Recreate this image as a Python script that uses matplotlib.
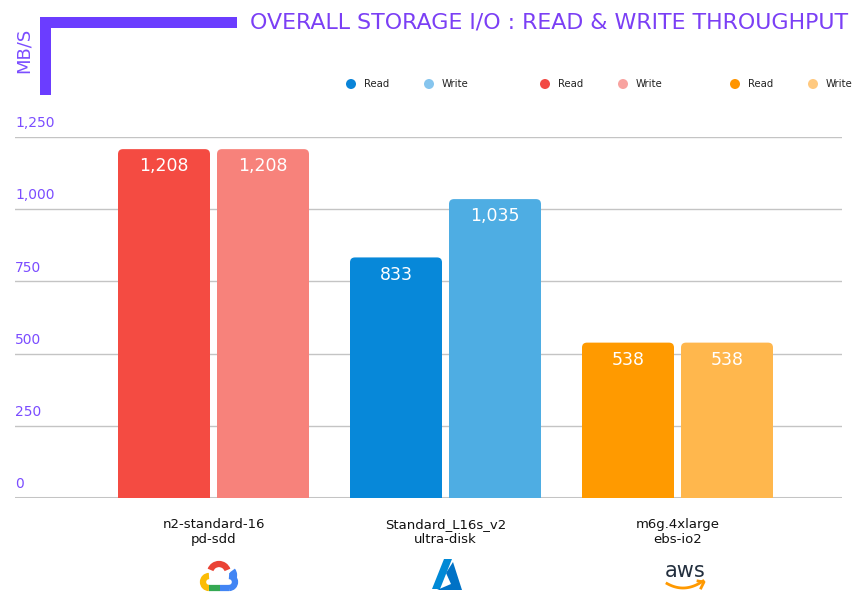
import matplotlib
matplotlib.use('Agg')
import matplotlib.pyplot as plt
import numpy as np
from matplotlib.patches import FancyBboxPatch, Rectangle, Polygon, Arc, Circle

# data
groups = ['n2-standard-16\npd-sdd', 'Standard_L16s_v2\nultra-disk', 'm6g.4xlarge\nebs-io2']
read_vals = [1208, 833, 538]
write_vals = [1208, 1035, 538]
read_colors = ['#F44B42', '#0788D9', '#FF9A00']
write_colors = ['#F7827B', '#4EADE3', '#FFB74D']
legend_read = ['#0A84D8', '#F24A44', '#FF9500']
legend_write = ['#86C5EE', '#F8A3A0', '#FFC97F']
yticks = [0, 250, 500, 750, 1000, 1250]

purple = '#7B4DFF'
plt.rcParams['font.family'] = ['DejaVu Sans']

W, H = 858, 611
fig = plt.figure(figsize=(W / 100, H / 100), dpi=100)

# main axes (pixel layout: x 15..842, y 137..498)
ax = fig.add_axes([15 / W, 1 - 498 / H, 827 / W, 361 / H])
x = np.arange(len(groups))
ax.set_xlim(-198.5 / 232, 2 + 164.5 / 232)
ax.set_ylim(0, 1250)
for s in ax.spines.values():
    s.set_visible(False)
ax.set_xticks([])
ax.set_yticks([])

# 网格线
for t in yticks:
    ax.axhline(t, color='#C4C4C4', lw=2.2 if t == 0 else 1.0, zorder=1)
    ax.annotate('{:,}'.format(t), xy=(0, t), xycoords=('axes fraction', 'data'),
                xytext=(0, 10), textcoords='offset points', ha='left', va='center',
                color=purple, fontsize=10)

bw = 92 / 232
off = 49.5 / 232
px_x = 232.0
px_y = 361 / 1250
rad = 5
for i in range(len(groups)):
    for xc, v, c in [(x[i] - off, read_vals[i], read_colors[i]),
                     (x[i] + off, write_vals[i], write_colors[i])]:
        p = FancyBboxPatch((xc - bw / 2, -40), bw, v + 40,
                           boxstyle='round,pad=0,rounding_size=%f' % (rad / px_x),
                           mutation_aspect=(rad / px_y) / (rad / px_x),
                           fc=c, ec='none', zorder=2)
        ax.add_patch(p)
        ax.annotate('{:,}'.format(v), xy=(xc, v), xytext=(0, -12.5), textcoords='offset points',
                    ha='center', va='center', color='white', fontsize=12.5, zorder=3)

# overlay in pixel coords
ov = fig.add_axes([0, 0, 1, 1])
ov.set_xlim(0, W)
ov.set_ylim(H, 0)
ov.axis('off')
ov.patch.set_alpha(0)

# L 形装饰
ov.add_patch(Rectangle((40, 17), 11, 78, fc='#6B3DFF', ec='none'))
ov.add_patch(Rectangle((40, 17), 197, 11, fc='#6B3DFF', ec='none'))
ov.text(24, 50, 'MB/S', rotation=90, ha='center', va='center', color=purple, fontsize=13)
ov.text(848, 23, 'OVERALL STORAGE I/O : READ & WRITE THROUGHPUT', ha='right', va='center',
        color='#7B3FF5', fontsize=15.9)

# 图例
leg_x = [351, 545, 735]
for i in range(3):
    ov.add_patch(Circle((leg_x[i], 84), 5, fc=legend_read[i], ec='none'))
    ov.text(leg_x[i] + 13, 84, 'Read', ha='left', va='center', fontsize=7.3, color='#222222')
    ov.add_patch(Circle((leg_x[i] + 78, 84), 5, fc=legend_write[i], ec='none'))
    ov.text(leg_x[i] + 91, 84, 'Write', ha='left', va='center', fontsize=7.3, color='#222222')

# x 轴标签
centers = [213.5, 445.5, 677.5]
for c, g in zip(centers, groups):
    ov.text(c, 532, g, ha='center', va='center', fontsize=9.5, color='#111111', linespacing=1.25)

# Google Cloud logo (rough)
gx, gy = 219, 576
ov.add_patch(Arc((gx, gy - 3), 18, 18, theta1=200, theta2=340, color='#EA4335', lw=4.5))
ov.add_patch(Arc((gx - 10, gy + 6), 12, 12, theta1=90, theta2=270, color='#FBBC05', lw=4.5))
ov.add_patch(Arc((gx + 10, gy + 6), 12, 12, theta1=-90, theta2=90, color='#4285F4', lw=4.5))
ov.plot([gx - 10, gx + 1], [gy + 12, gy + 12], color='#34A853', lw=4.5, solid_capstyle='butt')
ov.plot([gx + 1, gx + 10], [gy + 12, gy + 12], color='#4285F4', lw=4.5, solid_capstyle='butt')
ov.add_patch(Arc((gx + 8, gy - 1), 14, 14, theta1=-40, theta2=40, color='#4285F4', lw=4.5))

# Azure logo (rough)
ov.add_patch(Polygon([(444, 559), (452, 559), (440, 589), (432, 589)], fc='#0089D6', ec='none'))
ov.add_patch(Polygon([(453, 562), (462, 590), (437, 590), (451, 584), (446, 573)], fc='#0072C6', ec='none'))

# AWS logo (rough)
ov.text(685, 571, 'aws', ha='center', va='center', fontsize=15, color='#232F3E')
sx = np.linspace(667, 703, 40)
sy = 581 + 7 * (1 - ((sx - 683) / 20) ** 2)
ov.plot(sx, sy, color='#FF9900', lw=2)
ov.plot([698, 704, 701], [581, 582, 588], color='#FF9900', lw=2)

fig.savefig('out.png', dpi=100)
